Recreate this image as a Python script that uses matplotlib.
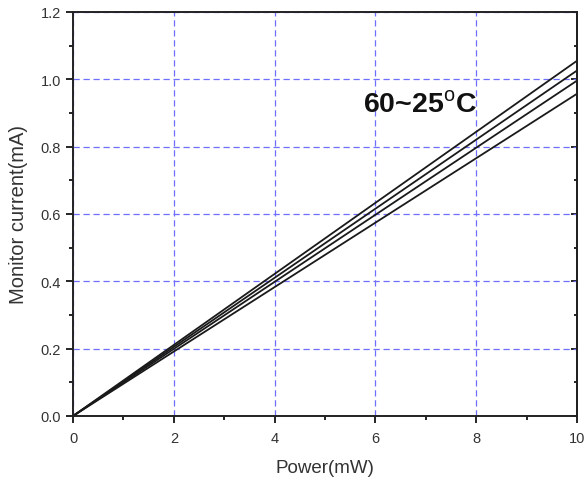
import numpy as np
import matplotlib.pyplot as plt
from matplotlib.ticker import MultipleLocator

plt.rcParams['font.family'] = ['Liberation Sans', 'DejaVu Sans']
plt.rcParams['mathtext.fontset'] = 'custom'
plt.rcParams['mathtext.rm'] = 'Liberation Sans'
plt.rcParams['mathtext.bf'] = 'Liberation Sans:bold'

# data (current at 0 and 10 mW, one line per temperature)
power = [0, 10]
current_a = [0, 1.055]
current_b = [0, 1.026]
current_c = [0, 0.996]
current_d = [0, 0.957]
series = [current_a, current_b, current_c, current_d]

fig = plt.figure(figsize=(5.87, 4.81), dpi=100)
ax = fig.add_axes([0.1244, 0.1331, 0.8586, 0.84])

for cur in series:
    ax.plot(power, cur, color='#1a1a1a', lw=1.3, solid_capstyle='butt')

ax.set_xlim(0, 10)
ax.set_ylim(0, 1.2)
ax.xaxis.set_major_locator(MultipleLocator(2))
ax.xaxis.set_minor_locator(MultipleLocator(1))
ax.yaxis.set_major_locator(MultipleLocator(0.2))
ax.yaxis.set_minor_locator(MultipleLocator(0.1))
ax.yaxis.set_major_formatter(lambda v, p: f'{v:.1f}')

ax.grid(True, which='major', color='#6f6fff', ls=(0, (5, 3)), lw=0.9)
ax.set_axisbelow(True)

ax.tick_params(which='both', direction='out', top=False, right=False,
               labelsize=10.5, labelcolor='#333333', width=1.2)
ax.tick_params(which='major', length=5)
ax.tick_params(axis='x', which='major', pad=6)
ax.tick_params(which='minor', length=3)
for s in ax.spines.values():
    s.set_linewidth(1.4)
    s.set_color('#222222')

# inward ticks on the right spine
ax2 = ax.secondary_yaxis('right')
ax2.yaxis.set_major_locator(MultipleLocator(0.2))
ax2.yaxis.set_minor_locator(MultipleLocator(0.1))
ax2.tick_params(which='both', direction='in', labelright=False, width=1.2)
ax2.tick_params(which='major', length=4)
ax2.tick_params(which='minor', length=2)
ax2.spines['right'].set_linewidth(1.4)

ax.set_xlabel('Power(mW)', fontsize=13.5, color='#333333', labelpad=10)
ax.set_ylabel('Monitor current(mA)', fontsize=14.5, color='#333333', labelpad=9)

ax.text(5.75, 0.903, r'60~25$^{\mathrm{o}}$C', fontsize=20.5, fontweight='bold',
        color='#111111', va='baseline', ha='left')

fig.savefig('out.png', dpi=100)
